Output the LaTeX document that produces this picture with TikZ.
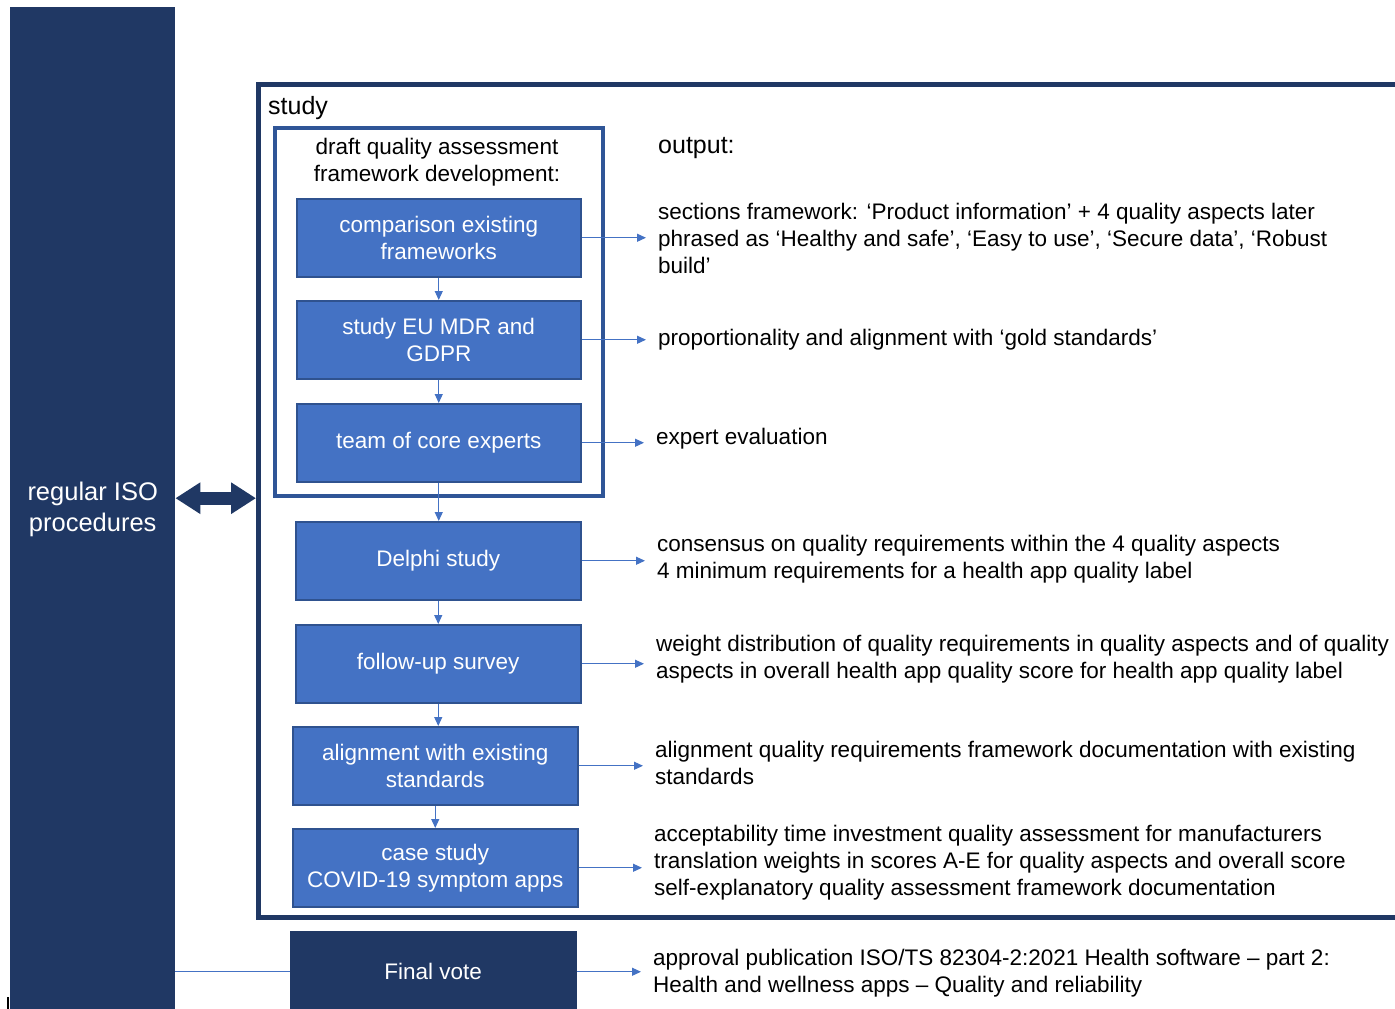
\documentclass[tikz,border=0pt]{standalone}
\usepackage{fontspec}
\setmainfont{Liberation Sans}
\usetikzlibrary{arrows.meta}

\definecolor{isonavy}{HTML}{203864}
\definecolor{stepblue}{HTML}{4472C4}
\definecolor{stepedge}{HTML}{2F528F}
\definecolor{draftedge}{HTML}{2F5597}

\tikzset{
  stepbox/.style={draw=stepedge, line width=1.5pt, fill=stepblue, text=white,
    minimum width=284pt, minimum height=78pt, anchor=north west, align=center,
    inner sep=0pt, font=\fontsize{22.5}{27}\selectfont},
  outtext/.style={anchor=west, align=left, inner xsep=12pt, inner ysep=0pt,
    font=\fontsize{22.5}{27}\selectfont},
  flow/.style={draw=stepblue, line width=1.2pt, -{Triangle[length=9pt,width=8pt]}},
}

\begin{document}
\begin{tikzpicture}[x=1pt, y=-1pt]
    \useasboundingbox (0,0) rectangle (1395,1009);

    % regular ISO bar on the left
    \node[fill=isonavy, text=white, anchor=north west, minimum width=165pt, minimum height=1004pt,
      align=center, font=\fontsize{25.5}{31}\selectfont] (iso) at (10,7) {regular ISO\\procedures};
    \fill[black] (7,997) rectangle (9,1009);

    % study frame (open to the right)
    \node[draw=isonavy, line width=5pt, anchor=north west, minimum width=1180pt,
      minimum height=833pt, inner sep=0pt] (study) at (256,82) {};
    \node[anchor=west, inner sep=0pt, font=\fontsize{25}{28}\selectfont] (studylabel) at (268,108) {study};

    % draft framework frame
    \node[draw=draftedge, line width=4pt, anchor=north west, minimum width=328pt,
      minimum height=368pt, inner sep=0pt] (draft) at (273,126) {};
    \node[align=center, font=\fontsize{22.5}{27}\selectfont] (draftlabel) at (437,162)
      {draft quality assessment\\framework development:};

    % steps
    \node[stepbox] (s1) at (296,198) {comparison existing\\frameworks};
    \node[stepbox] (s2) at (296,300) {study EU MDR and\\GDPR};
    \node[stepbox] (s3) at (296,403) {team of core experts};
    \node[stepbox, minimum width=285pt] (s4) at (295,521) {Delphi study};
    \node[stepbox, minimum width=285pt] (s5) at (295,624) {follow-up survey};
    \node[stepbox, minimum width=285pt] (s6) at (292,726) {alignment with existing\\standards};
    \node[stepbox, minimum width=285pt] (s7) at (292,828) {case study\\COVID-19 symptom apps};
    \node[stepbox, fill=isonavy, draw=isonavy, minimum width=285pt, minimum height=80pt] (vote) at (290,931) {Final vote};

    % outputs
    \node[anchor=west, inner sep=0pt, font=\fontsize{25}{28}\selectfont] (outlabel) at (658,148) {output:};
    \node[outtext] (o1) at (646,238) {sections framework: ‘Product information’ + 4 quality aspects later\\phrased as ‘Healthy and safe’, ‘Easy to use’, ‘Secure data’, ‘Robust\\build’};
    \node[outtext] (o2) at (646,340) {proportionality and alignment with ‘gold standards’};
    \node[outtext] (o3) at (644,439) {expert evaluation};
    \node[outtext] (o4) at (645,559) {consensus on quality requirements within the 4 quality aspects\\4 minimum requirements for a health app quality label};
    \node[outtext] (o5) at (644,659) {weight distribution of quality requirements in quality aspects and of quality\\aspects in overall health app quality score for health app quality label};
    \node[outtext] (o6) at (643,763) {alignment quality requirements framework documentation with existing\\standards};
    \node[outtext] (o7) at (642,863) {acceptability time investment quality assessment for manufacturers\\translation weights in scores A-E for quality aspects and overall score\\self-explanatory quality assessment framework documentation};
    \node[outtext] (o8) at (641,973) {approval publication ISO/TS 82304-2:2021 Health software – part 2:\\Health and wellness apps – Quality and reliability};

    % step to step
    \draw[flow] (s1.south) -- (s2.north);
    \draw[flow] (s2.south) -- (s3.north);
    \draw[flow] (s3.south) -- (s3.south |- s4.north);
    \draw[flow] (s4.south) -- (s4.south |- s5.north);
    \draw[flow] (s5.south) -- (s5.south |- s6.north);
    \draw[flow] (s6.south) -- (s7.north);

    % step to output
    \foreach \s/\o in {s1/o1, s2/o2, s3/o3, s4/o4, s5/o5, s6/o6, s7/o7, vote/o8}
      \draw[flow] (\s.east) -- (\s.east -| \o.west);

    % ISO link
    \draw[draw=stepblue, line width=1pt] (iso.east |- vote.west) -- (vote.west);
    \draw[isonavy, line width=13pt, {Triangle[length=25pt,width=30pt]}-{Triangle[length=25pt,width=30pt]}]
      ([yshift=11pt]iso.east) -- ([yshift=11pt]iso.east -| study.west);
\end{tikzpicture}
\end{document}
